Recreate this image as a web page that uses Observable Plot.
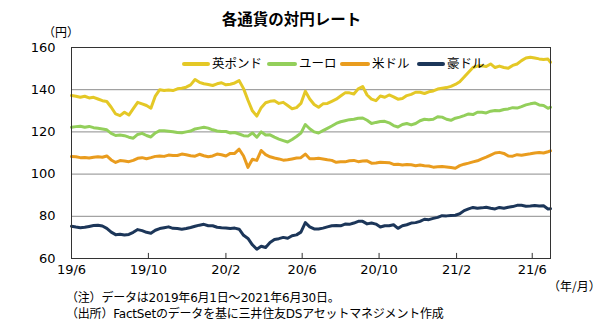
<!DOCTYPE html>
<html><head><meta charset="utf-8">
<script src="https://cdn.jsdelivr.net/npm/d3@7"></script>
<script src="https://cdn.jsdelivr.net/npm/@observablehq/plot@0.6"></script>
<style>
body{margin:0;background:#fff;}
#wrap{position:relative;width:611px;height:327px;overflow:hidden;font-family:"Noto Sans CJK JP","Noto Sans",sans-serif;color:#000;}
.abs{position:absolute;white-space:nowrap;line-height:1;}
.lg{position:absolute;height:4px;border-radius:2px;}
</style></head>
<body><div id="wrap"></div>
<script>
const seriesNames = ["英ポンド","ユーロ","米ドル","豪ドル"];
const seriesColors = ["#E4C826","#93CF5B","#E99C1E","#1C3659"];
const startDate = "2019-06-01";
const endDate = "2021-06-30";
const xTickDates = ["2019-06-01","2019-10-01","2020-02-01","2020-06-01","2020-10-01","2021-02-01","2021-06-01"];
const xTickLabels = ["19/6","19/10","20/2","20/6","20/10","21/2","21/6"];
const yTicks = [60,80,100,120,140,160];
const yGrid = [80,100,120,140];

const gbp = [137.2,136.9,136.4,136.9,136.1,136.4,135.6,134.8,134.4,131.7,
128.5,127.7,129.3,128.0,131.0,134.0,133.3,132.5,131.2,137.0,
140.0,139.6,139.9,139.6,140.4,140.7,141.2,142.3,144.8,143.5,
142.8,142.5,142.0,142.8,143.3,142.3,142.6,143.2,144.3,140.5,
135.0,130.0,127.5,131.5,133.8,134.5,134.8,133.5,134.0,132.5,
131.0,131.5,133.5,139.3,135.6,133.0,131.7,133.3,133.5,134.5,
135.5,137.0,138.5,138.5,138.0,140.4,141.5,137.5,135.5,134.8,
137.0,136.4,137.5,136.6,135.5,135.8,137.2,137.8,138.8,138.8,
138.2,139.0,139.4,140.3,140.7,141.0,141.6,142.5,143.8,146.0,
148.3,150.5,151.2,151.3,151.0,152.2,150.5,151.2,150.5,150.2,
151.5,152.2,153.8,155.0,155.4,155.0,154.6,154.3,154.5,153.0];
const eur = [122.2,122.5,122.7,122.2,122.6,122.0,121.7,121.4,121.0,119.3,
118.3,118.5,118.2,117.5,117.0,118.8,119.3,118.3,117.6,119.5,
120.6,120.5,120.3,120.1,119.7,119.6,120.0,120.4,121.4,121.8,
122.2,121.8,121.0,120.4,120.2,120.2,119.5,119.7,119.0,118.2,
118.0,119.5,117.5,120.0,118.5,118.6,117.5,116.6,115.9,115.2,
116.4,117.8,119.4,123.5,121.5,120.0,119.5,120.6,121.7,122.8,
124.0,124.8,125.3,125.8,126.0,126.5,126.6,125.5,124.0,124.5,
124.9,125.0,124.3,123.0,122.3,123.5,124.0,123.3,124.0,125.3,
126.0,125.8,126.0,127.2,127.0,126.0,125.5,126.5,127.0,127.7,
128.5,128.2,129.3,129.3,129.0,129.8,130.1,130.0,130.6,130.9,
131.5,131.3,132.0,132.8,133.3,133.7,132.8,132.5,131.2,131.7];
const usd = [108.3,108.2,107.8,107.9,107.6,108.0,108.2,108.0,108.6,106.7,
105.5,106.4,106.2,105.9,106.5,107.5,107.8,107.3,107.8,108.4,
108.6,108.4,109.0,108.8,108.8,109.5,109.2,108.7,108.5,109.4,
108.7,108.2,108.6,109.5,109.2,108.6,109.8,109.8,111.8,108.6,
103.2,107.0,106.5,111.2,109.2,108.2,107.6,107.2,106.6,106.8,
107.2,107.6,107.8,109.5,107.3,107.3,107.5,107.2,106.8,106.5,
105.6,105.8,105.8,106.3,106.5,105.9,106.2,106.3,105.2,105.3,
105.6,105.5,105.4,104.6,104.7,104.3,104.6,104.4,104.0,104.3,
104.0,103.8,103.3,103.5,103.6,103.4,103.1,102.8,104.0,104.7,
105.2,105.8,106.3,107.2,108.0,109.0,110.0,110.3,109.8,108.6,
108.5,109.2,108.9,109.3,109.6,110.0,110.2,110.0,110.6,111.0];
const aud = [75.3,74.9,74.6,74.8,75.2,75.6,75.8,75.4,74.3,72.5,
71.3,71.5,71.1,71.4,72.4,73.7,73.2,72.4,72.0,73.4,
74.2,74.6,75.0,74.3,74.2,73.9,74.2,74.7,75.3,75.8,
76.2,75.5,75.5,74.8,74.6,74.5,74.2,74.4,73.9,71.0,
69.5,66.5,64.4,65.8,65.2,67.6,69.0,69.4,70.0,69.6,
70.8,71.2,72.5,77.0,75.0,74.0,74.0,74.4,75.0,75.5,
75.6,75.5,76.3,76.2,76.8,77.6,77.6,76.4,76.8,76.3,
74.9,75.5,75.5,76.0,74.3,75.5,76.0,76.8,77.0,77.6,
78.6,78.4,79.0,79.5,80.3,80.2,80.4,80.5,81.2,82.7,
83.5,84.2,83.8,84.0,84.3,83.8,83.5,84.2,83.8,84.3,
84.6,85.2,85.2,84.8,84.9,85.1,84.9,85.0,83.5,83.6];

const start = new Date(startDate);
const dates = gbp.map((_, i) => i < gbp.length - 1 ? d3.utcDay.offset(start, 7 * i) : new Date(endDate));
const allSeries = [gbp, eur, usd, aud];
const rows = [];
allSeries.forEach((arr, s) => arr.forEach((v, i) => rows.push({date: dates[i], v, s: seriesNames[s]})));
const tickDates = xTickDates.map(d => new Date(d));
const labelOf = new Map(tickDates.map((d, i) => [+d, xTickLabels[i]]));

const chart = Plot.plot({
  width: 611, height: 327,
  marginLeft: 71, marginRight: 61, marginTop: 47, marginBottom: 69,
  style: {fontFamily: "DejaVu Sans, Verdana, sans-serif", fontSize: "13px", color: "#000", background: "#fff"},
  x: {type: "utc", domain: [new Date(startDate), new Date(endDate)]},
  y: {domain: [60, 160]},
  color: {domain: seriesNames, range: seriesColors},
  marks: [
    Plot.ruleY(yGrid, {stroke: "#8c8c8c", strokeWidth: 1}),
    ...[3,2,1,0].map(k => Plot.line(rows.filter(r => r.s === seriesNames[k]), {x: "date", y: "v", stroke: seriesColors[k], strokeWidth: 3, strokeLinejoin: "round", curve: "linear"})),
    Plot.frame({stroke: "#333", strokeWidth: 1}),
    Plot.ruleX(tickDates, {y1: 60, y2: 62.4, stroke: "#333"}),
    Plot.axisY(yTicks, {tickSize: 0, tickPadding: 16, fontSize: 13, label: null}),
    Plot.axisX(tickDates, {tickSize: 0, tickPadding: 6, fontSize: 13, label: null, tickFormat: d => labelOf.get(+d)})
  ]
});
const wrap = document.getElementById("wrap");
wrap.appendChild(chart);

function addText(txt, left, top, size, extra) {
  const el = document.createElement("div");
  el.className = "abs";
  el.textContent = txt;
  el.style.left = left + "px"; el.style.top = top + "px"; el.style.fontSize = size + "px";
  if (extra) Object.assign(el.style, extra);
  wrap.appendChild(el);
  return el;
}
addText("各通貨の対円レート", 0, 11, 15.5, {width: "583px", textAlign: "center", fontWeight: "700"});
addText("（円）", 43, 26, 12);
addText("（年/月）", 548, 280, 12);
const noteFont = {fontFamily: '"DejaVu Sans","Noto Sans CJK JP",sans-serif', letterSpacing: "-0.2px"};
addText("（注）データは2019年6月1日～2021年6月30日。", 66, 292, 12, noteFont);
addText("（出所）FactSetのデータを基に三井住友DSアセットマネジメント作成", 66, 308, 12, noteFont);

const legendPos = [[182, 212], [267, 299], [340, 372], [417, 447]];
seriesNames.forEach((n, k) => {
  const ln = document.createElement("div");
  ln.className = "lg";
  ln.style.left = legendPos[k][0] + "px"; ln.style.top = "62px"; ln.style.width = (legendPos[k][1] - legendPos[k][0] - 2) + "px";
  ln.style.background = seriesColors[k];
  wrap.appendChild(ln);
  addText(n, legendPos[k][1], 57, 12.5);
});
</script></body></html>
